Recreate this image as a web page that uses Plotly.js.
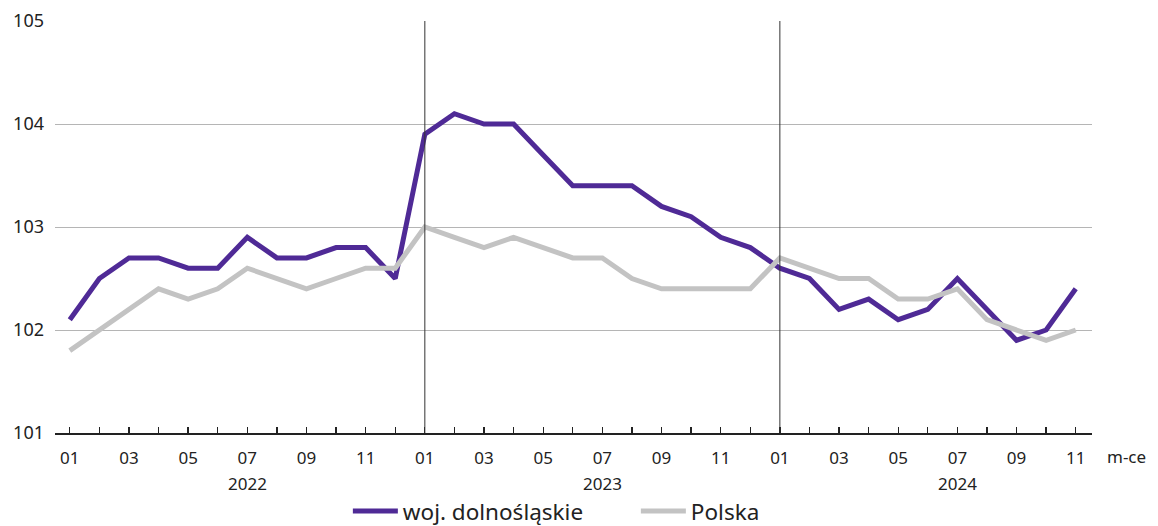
<!DOCTYPE html>
<html>
<head>
<meta charset="utf-8">
<script src="https://cdn.plot.ly/plotly-3.0.1.min.js"></script>
<style>html,body{margin:0;padding:0;background:#fff;}#chart{width:1158px;height:526px;}</style>
</head>
<body>
<div id="chart"></div>
<script>
const months = ['01','02','03','04','05','06','07','08','09','10','11','12',
                '01','02','03','04','05','06','07','08','09','10','11','12',
                '01','02','03','04','05','06','07','08','09','10','11'];
const years = ['2022','2023','2024'];
const dolnoslaskie = [102.1,102.5,102.7,102.7,102.6,102.6,102.9,102.7,102.7,102.8,102.8,102.5,
                      103.9,104.1,104.0,104.0,103.7,103.4,103.4,103.4,103.2,103.1,102.9,102.8,
                      102.6,102.5,102.2,102.3,102.1,102.2,102.5,102.2,101.9,102.0,102.4];
const polska = [101.8,102.0,102.2,102.4,102.3,102.4,102.6,102.5,102.4,102.5,102.6,102.6,
                103.0,102.9,102.8,102.9,102.8,102.7,102.7,102.5,102.4,102.4,102.4,102.4,
                102.7,102.6,102.5,102.5,102.3,102.3,102.4,102.1,102.0,101.9,102.0];
const yTicks = [101,102,103,104,105];

const idx = months.map((m,i)=>i);
const tickVals = idx.filter(i => i % 2 === 0);
const tickText = tickVals.map(i => months[i]);

const font = "'Noto Sans', Roboto, sans-serif";

const data = [
  {x: idx, y: dolnoslaskie, type:'scatter', mode:'lines', name:'woj. dolnośląskie',
   line:{color:'#4F2A96', width:5}},
  {x: idx, y: polska, type:'scatter', mode:'lines', name:'Polska',
   line:{color:'#C3C3C3', width:5}}
];

const annotations = years.map((yr,k)=>({
  x: k*12 + 6, y: 0, xref:'x', yref:'paper', yshift:-64, text: yr, showarrow:false,
  font:{family:font, size:17, color:'#222'}
}));
annotations.push({x:1, xref:'paper', y:0, yref:'paper', xanchor:'left', xshift:13, yshift:-37,
  text:'m-ce', showarrow:false, font:{family:font, size:17, color:'#222'}});

const shapes = [12,24].map(v=>({type:'line', xref:'x', yref:'paper', x0:v, x1:v, y0:0, y1:1,
  line:{color:'#333', width:1}}));

const layout = {
  width:1158, height:526,
  margin:{l:55, r:66, t:21, b:93, autoexpand:false},
  paper_bgcolor:'#fff', plot_bgcolor:'#fff',
  font:{family:font, color:'#222'},
  showlegend:true,
  legend:{orientation:'h', xref:'container', x:0.3004, xanchor:'left', yref:'paper', y:-0.138, yanchor:'top',
          entrywidth:228, entrywidthmode:'pixels', itemwidth:45,
          font:{family:font, size:22.5, color:'#222'}},
  xaxis:{range:[-0.5,34.55], tickvals:tickVals, ticktext:tickText, showgrid:false, zeroline:false,
         ticks:'inside', ticklen:6, tickwidth:1.3, tickcolor:'#222', ticklabelstandoff:9,
         tickfont:{family:font, size:17, color:'#222'},
         showline:true, linecolor:'#222', linewidth:1.5,
         minor:{tickvals:idx.filter(i=>i%2===1), ticks:'inside', ticklen:6, tickwidth:1.3, tickcolor:'#222'}},
  yaxis:{range:[101,105], tickvals:yTicks, showgrid:true, gridcolor:'#B5B5B5', gridwidth:1,
         zeroline:false, showline:false, ticks:'', ticklabelstandoff:10,
         tickfont:{family:font, size:18, color:'#222'}},
  annotations: annotations,
  shapes: shapes
};
Plotly.newPlot('chart', data, layout, {displayModeBar:false, staticPlot:true});
</script>
</body>
</html>
